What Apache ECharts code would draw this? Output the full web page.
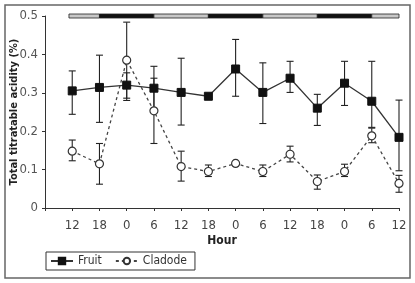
<!DOCTYPE html>
<html>
<head>
<meta charset="utf-8">
<script src="https://cdn.jsdelivr.net/npm/echarts@6/dist/echarts.min.js"></script>
<style>
  html, body { margin: 0; padding: 0; background: #fff; }
  #chart-container { width: 415px; height: 283px; }
</style>
</head>
<body>
<div id="chart-container"></div>
<script>
var hours = ['12', '18', '0', '6', '12', '18', '0', '6', '12', '18', '0', '6', '12'];

var fruit   = [0.305, 0.314, 0.320, 0.312, 0.301, 0.291, 0.362, 0.301, 0.338, 0.260, 0.325, 0.278, 0.184];
var fruitLo = [0.244, 0.223, 0.280, 0.255, 0.216, null, 0.291, 0.220, 0.301, 0.215, 0.267, 0.210, 0.097];
var fruitHi = [0.357, 0.398, 0.352, 0.369, 0.390, null, 0.439, 0.378, 0.382, 0.296, 0.382, 0.382, 0.281];

var cladode   = [0.148, 0.115, 0.385, 0.253, 0.108, 0.095, 0.116, 0.095, 0.140, 0.069, 0.095, 0.188, 0.064];
var cladodeLo = [0.123, 0.062, 0.286, 0.168, 0.070, 0.082, null, 0.082, 0.120, 0.049, 0.082, 0.170, 0.041];
var cladodeHi = [0.177, 0.168, 0.484, 0.338, 0.148, 0.112, null, 0.112, 0.161, 0.086, 0.114, 0.208, 0.085];

// light / dark periods along the top (in hour-index units)
var periodBounds = [0.88, 2, 4, 6, 8, 10, 12, 13];
var periodDark   = [false, true, false, true, false, true, false];

var font = '"DejaVu Sans Condensed", "Liberation Sans Narrow", "Liberation Sans", sans-serif';

var dom = document.getElementById('chart-container');
var myChart = echarts.init(dom, null, { renderer: 'canvas' });

function toPoints(arr) {
    return arr.map(function (v, i) { return [i + 1, v]; });
}

function errorBars(name, lo, hi) {
    var data = [];
    for (var i = 0; i < lo.length; i++) {
        if (lo[i] != null) data.push([i + 1, lo[i], hi[i]]);
    }
    return {
        name: name,
        type: 'custom',
        z: 1,
        silent: true,
        renderItem: function (params, api) {
            var x = api.value(0);
            var a = api.coord([x, api.value(1)]);
            var b = api.coord([x, api.value(2)]);
            var w = 3.5;
            var st = { stroke: '#222', lineWidth: 1.1 };
            return {
                type: 'group',
                children: [
                    { type: 'line', shape: { x1: a[0], y1: a[1], x2: b[0], y2: b[1] }, style: st },
                    { type: 'line', shape: { x1: a[0] - w, y1: a[1], x2: a[0] + w, y2: a[1] }, style: st },
                    { type: 'line', shape: { x1: b[0] - w, y1: b[1], x2: b[0] + w, y2: b[1] }, style: st }
                ]
            };
        },
        encode: { x: 0, y: [1, 2] },
        data: data
    };
}

var periodData = periodDark.map(function (d, i) {
    return [periodBounds[i], periodBounds[i + 1], d ? 1 : 0];
});

var option = {
    animation: false,
    backgroundColor: '#fff',
    textStyle: { fontFamily: font },
    graphic: [{
        type: 'rect',
        shape: { x: 5, y: 5, width: 405, height: 273 },
        style: { fill: 'none', stroke: '#666', lineWidth: 1.5 },
        z: 0
    }],
    grid: { left: 45, right: 16, top: 16, bottom: 75, containLabel: false, outerBoundsMode: 'none' },
    legend: {
        data: ['Fruit', 'Cladode'],
        left: 46,
        top: 252,
        orient: 'horizontal',
        borderColor: '#333',
        borderWidth: 1,
        padding: [3, 8, 3, 4],
        itemWidth: 22,
        itemHeight: 8,
        itemGap: 13,
        textStyle: { fontFamily: font, fontSize: 12, color: '#333' }
    },
    xAxis: {
        type: 'value',
        min: 0,
        max: 13,
        interval: 1,
        name: 'Hour',
        nameLocation: 'middle',
        nameGap: 27,
        nameMoveOverlap: false,
        nameTextStyle: { fontFamily: font, fontWeight: 'bold', fontSize: 12, color: '#222' },
        splitLine: { show: false },
        axisLine: { lineStyle: { color: '#333', width: 1 } },
        axisTick: { length: 3, lineStyle: { color: '#333' } },
        axisLabel: {
            margin: 11,
            fontSize: 13,
            color: '#444',
            formatter: function (v) { return v >= 1 ? hours[v - 1] : ''; }
        }
    },
    yAxis: {
        type: 'value',
        min: 0,
        max: 0.5,
        interval: 0.1,
        name: 'Total titratable acidity (%)',
        nameLocation: 'middle',
        nameGap: 25,
        nameMoveOverlap: false,
        nameTextStyle: { fontFamily: font, fontWeight: 'bold', fontSize: 11, color: '#222' },
        splitLine: { show: false },
        axisLine: { show: true, lineStyle: { color: '#333', width: 1 } },
        axisTick: { show: true, length: 3, lineStyle: { color: '#333' } },
        axisLabel: {
            margin: 7,
            fontSize: 13,
            color: '#555',
            formatter: function (v) { return v === 0 ? '0' : v.toFixed(1); }
        }
    },
    series: [
        errorBars('Fruit SE', fruitLo, fruitHi),
        errorBars('Cladode SE', cladodeLo, cladodeHi),
        {
            name: 'Fruit',
            type: 'line',
            z: 3,
            data: toPoints(fruit),
            symbol: 'rect',
            symbolSize: 8,
            itemStyle: { color: '#111', borderColor: '#111', borderWidth: 1 },
            lineStyle: { color: '#333', width: 1.3 }
        },
        {
            name: 'Cladode',
            type: 'line',
            z: 3,
            data: toPoints(cladode),
            symbol: 'circle',
            symbolSize: 8,
            itemStyle: { color: '#fff', borderColor: '#333', borderWidth: 1.2 },
            lineStyle: { color: '#444', width: 1.3, type: [3, 3] }
        },
        {
            name: 'Photoperiod',
            type: 'custom',
            z: 4,
            silent: true,
            renderItem: function (params, api) {
                var a = api.coord([api.value(0), 0.5]);
                var b = api.coord([api.value(1), 0.5]);
                var dark = api.value(2) === 1;
                return {
                    type: 'rect',
                    shape: { x: a[0], y: a[1] - 2, width: b[0] - a[0], height: 4 },
                    style: { fill: dark ? '#111' : '#c8c8c8', stroke: '#222', lineWidth: 0.8 }
                };
            },
            encode: { x: [0, 1], y: 2 },
            data: periodData
        }
    ]
};

if (option && typeof option === 'object') {
    myChart.setOption(option);
}

window.addEventListener('resize', myChart.resize);
</script>
</body>
</html>
